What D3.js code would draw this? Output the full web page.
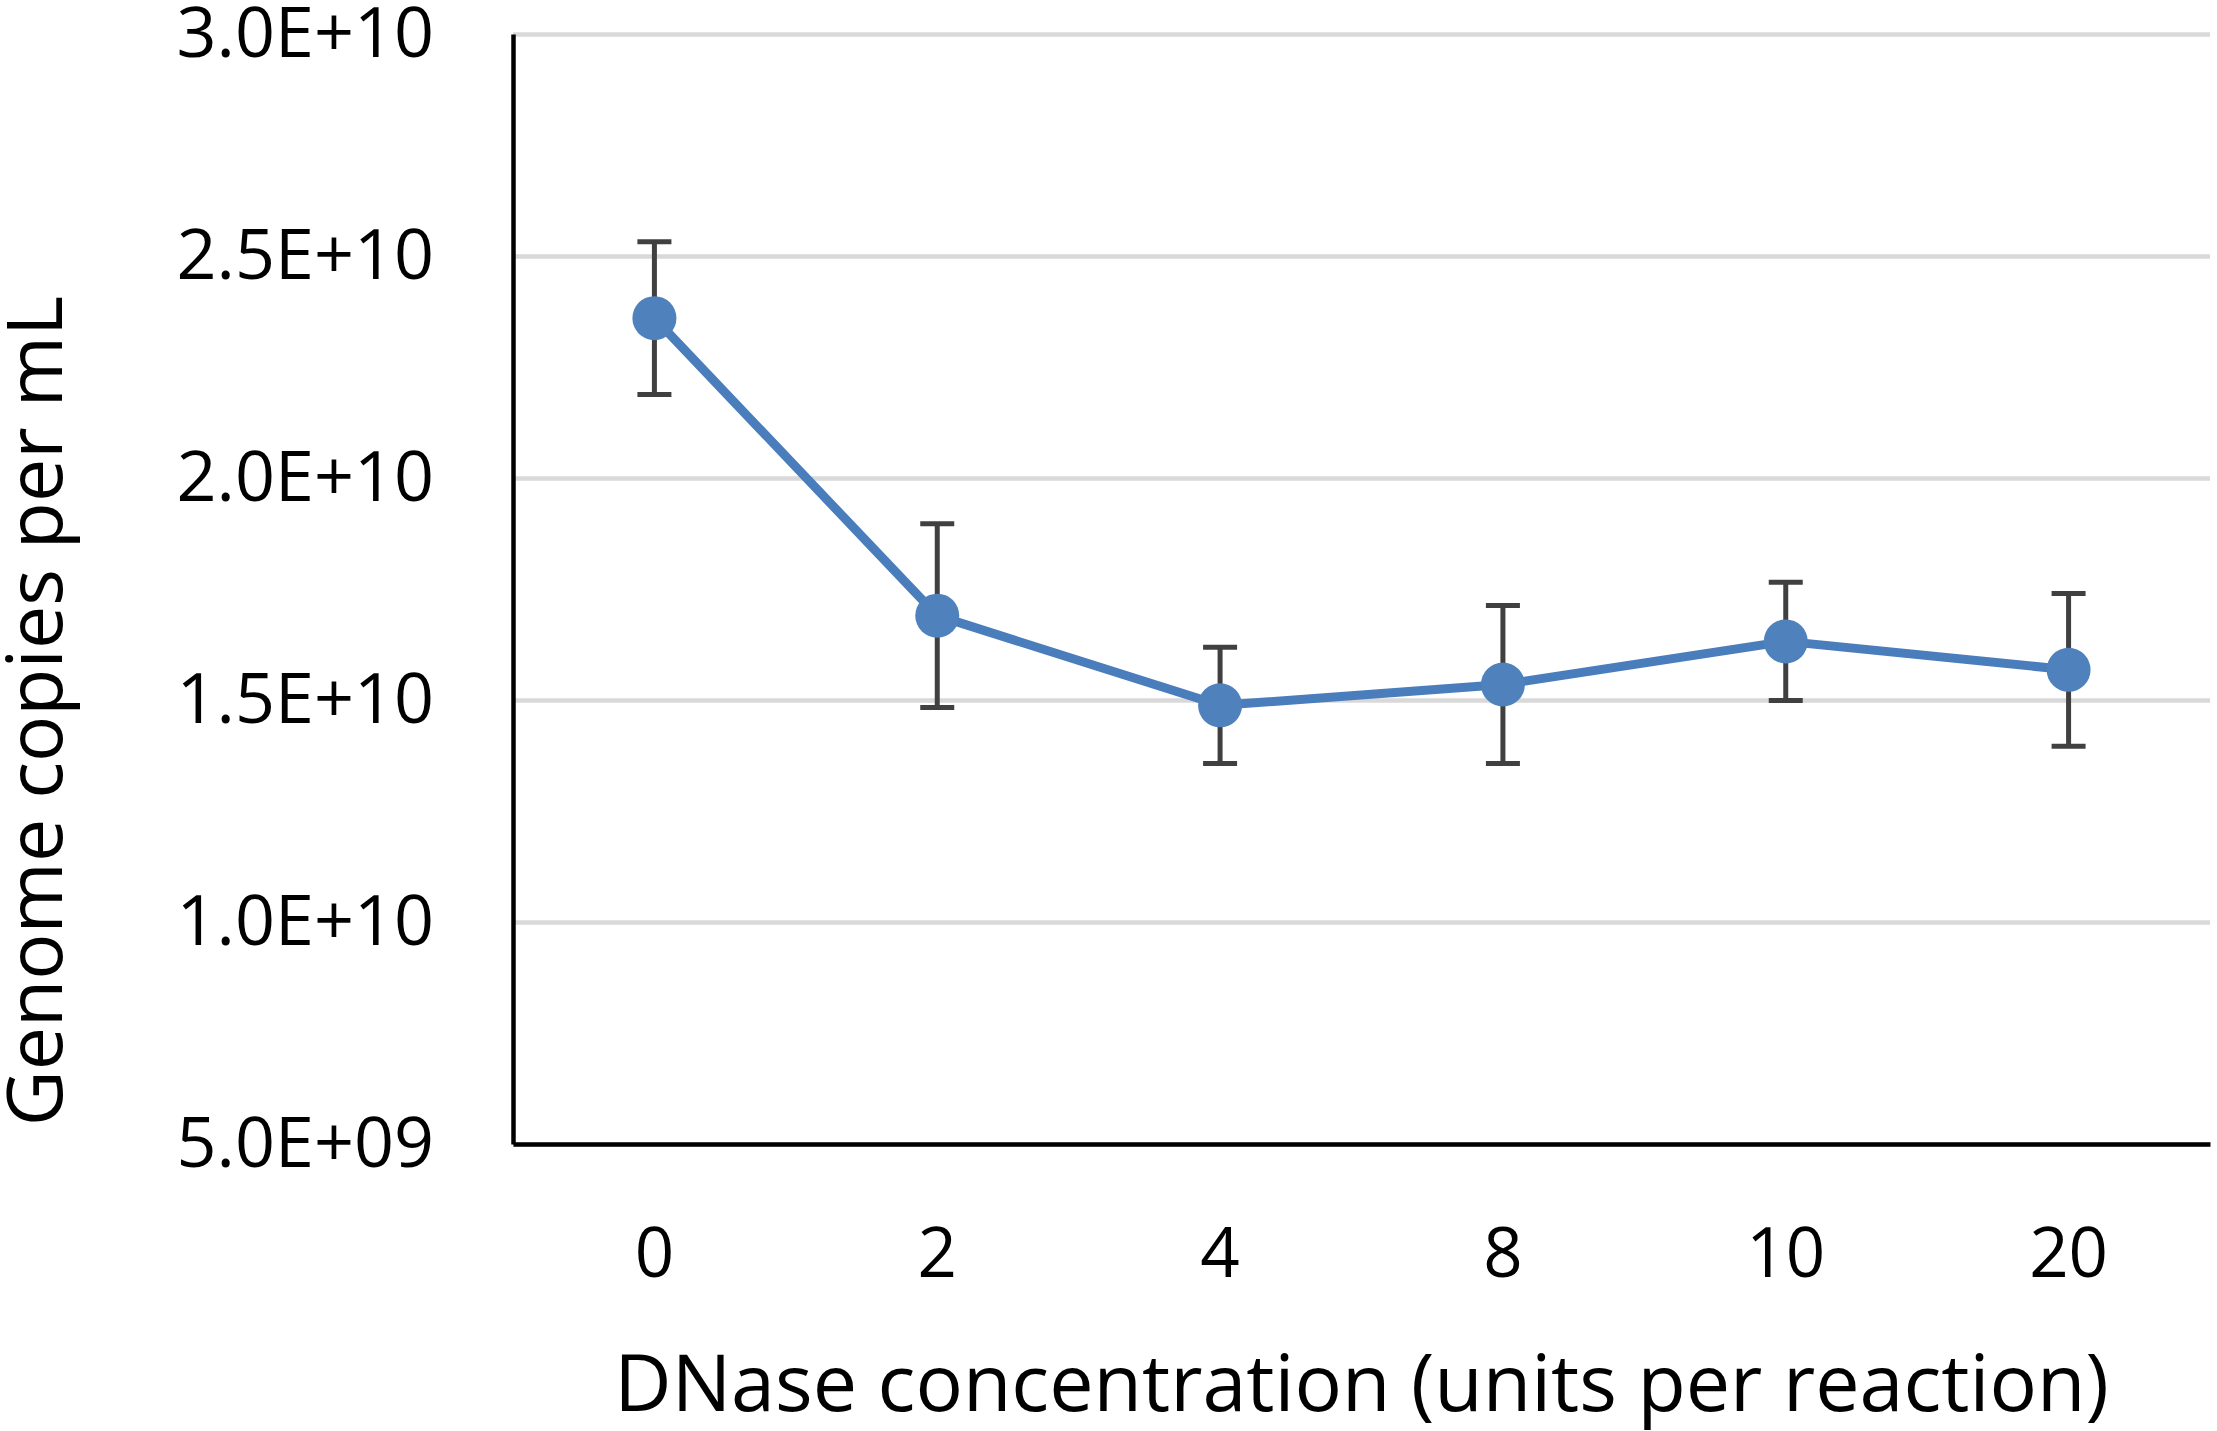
<!DOCTYPE html>
<html>
<head>
    <script src="https://d3js.org/d3.v7.min.js"></script>
    <style>
        body { margin: 0; background: #fff; }
        text { font-family: "Open Sans", Lato, sans-serif; fill: #000; font-variant-ligatures: none; }
    </style>
</head>
<body>
    <svg width="2217" height="1431"></svg>
    <script>
        // data
        var doses = ["0", "2", "4", "8", "10", "20"];
        var copies = [2.360e10, 1.690e10, 1.488e10, 1.535e10, 1.632e10, 1.568e10];
        var errors = [0.172e10, 0.207e10, 0.131e10, 0.178e10, 0.133e10, 0.172e10];
        var yTicks = [5e9, 1e10, 1.5e10, 2e10, 2.5e10, 3e10];

        var svg = d3.select("svg"),
            plotLeft = 513, plotRight = 2210, plotTop = 34, plotBottom = 1144;

        var x = d3.scaleBand()
                  .domain(doses)
                  .range([plotLeft, plotRight]);

        var y = d3.scaleLinear()
                  .domain([5e9, 3e10])
                  .range([plotBottom, plotTop]);

        // 3.0E+10 / 5.0E+09 style labels
        function sci(v) {
            var parts = v.toExponential(1).split("e");
            var exp = parseInt(parts[1], 10);
            var sign = exp < 0 ? "-" : "+";
            exp = Math.abs(exp);
            return parts[0] + "E" + sign + (exp < 10 ? "0" + exp : exp);
        }

        // gridlines
        var grid = svg.append("g")
                      .attr("transform", "translate(" + plotLeft + ",0)")
                      .call(d3.axisLeft(y).tickValues(yTicks).tickSize(-(plotRight - plotLeft)).tickFormat(""));
        grid.select(".domain").remove();
        grid.selectAll("line").attr("stroke", "#d9d9d9").attr("stroke-width", 4.5);

        // y axis
        var yAxis = svg.append("g")
                       .attr("transform", "translate(" + plotLeft + ",0)")
                       .call(d3.axisLeft(y).tickValues(yTicks).tickSize(0).tickSizeOuter(0)
                               .tickPadding(79).tickFormat(sci));
        yAxis.select(".domain").attr("stroke", "#000").attr("stroke-width", 4.5);
        yAxis.selectAll("text").style("font-size", "70px");

        // x axis
        var xAxis = svg.append("g")
                       .attr("transform", "translate(0," + plotBottom + ")")
                       .call(d3.axisBottom(x).tickSize(0).tickSizeOuter(0).tickPadding(84));
        xAxis.select(".domain").attr("stroke", "#000").attr("stroke-width", 4.5);
        xAxis.selectAll("text").style("font-size", "69px");

        var cx = function(d, i) { return x(doses[i]) + x.bandwidth() / 2; };

        // error bars
        var bars = svg.append("g")
                      .attr("stroke", "#404040")
                      .attr("stroke-width", 5)
                      .selectAll("g")
                      .data(copies)
                      .enter().append("g");

        bars.append("line")
            .attr("x1", cx).attr("x2", cx)
            .attr("y1", function(d, i) { return y(d + errors[i]); })
            .attr("y2", function(d, i) { return y(d - errors[i]); });
        bars.append("line")
            .attr("x1", function(d, i) { return cx(d, i) - 17; })
            .attr("x2", function(d, i) { return cx(d, i) + 17; })
            .attr("y1", function(d, i) { return y(d + errors[i]); })
            .attr("y2", function(d, i) { return y(d + errors[i]); });
        bars.append("line")
            .attr("x1", function(d, i) { return cx(d, i) - 17; })
            .attr("x2", function(d, i) { return cx(d, i) + 17; })
            .attr("y1", function(d, i) { return y(d - errors[i]); })
            .attr("y2", function(d, i) { return y(d - errors[i]); });

        // series line and markers
        var line = d3.line()
                     .x(cx)
                     .y(function(d) { return y(d); });

        svg.append("path")
           .datum(copies)
           .attr("d", line)
           .attr("fill", "none")
           .attr("stroke", "#4a7dbb")
           .attr("stroke-width", 9)
           .attr("stroke-linejoin", "round");

        svg.append("g")
           .selectAll("circle")
           .data(copies)
           .enter().append("circle")
           .attr("cx", cx)
           .attr("cy", function(d) { return y(d); })
           .attr("r", 22)
           .attr("fill", "#4f81bd");

        // axis titles
        svg.append("text")
           .attr("x", (plotLeft + plotRight) / 2)
           .attr("y", 1411)
           .attr("text-anchor", "middle")
           .style("font-size", "79px")
           .text("DNase concentration (units per reaction)");

        svg.append("text")
           .attr("transform", "translate(62," + 711 + ") rotate(-90)")
           .attr("text-anchor", "middle")
           .style("font-size", "77px")
           .text("Genome copies per mL");
    </script>
</body>
</html>
